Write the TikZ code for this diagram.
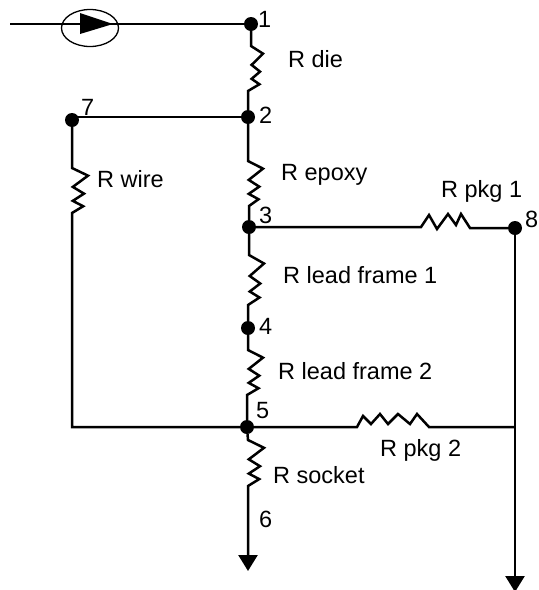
\documentclass[tikz,border=0pt]{standalone}
\usepackage{fontspec}
\setmainfont{Liberation Sans}
\usetikzlibrary{arrows.meta, shapes.geometric}

\tikzset{
	wire/.style={line width=2.5pt, line join=miter},
	dot/.style={circle, fill=black, inner sep=0pt, minimum size=14pt},
	lbl/.style={anchor=base west, inner sep=0pt, font=\fontsize{23.5}{26}\selectfont},
	tip/.style={-{Triangle[length=16pt, width=19pt]}},
	vzig/.style 2 args={insert path={
		-- ++({#1},{.17*#2}) -- ++({-.95*#1},{.25*#2}) -- ++({.7*#1},{.15*#2})
		-- ++({-.7*#1},{.16*#2}) -- ++({.65*#1},{.12*#2})}},
}

\begin{document}
\begin{tikzpicture}[x=1pt, y=-1pt]
	\useasboundingbox (0,0) rectangle (539,590);

	\node [dot] (n1) at (251,24) {};
	\node [dot] (n2) at (248,117) {};
	\node [dot] (n3) at (249,227) {};
	\node [dot] (n4) at (248,328) {};
	\node [dot] (n5) at (247,427) {};
	\node [dot] (n7) at (72,120) {};
	\node [dot] (n8) at (515,228) {};

	\coordinate (in) at (10,24);
	\coordinate (top) at (75,117);
	\coordinate (corner) at (72,427);
	\coordinate (junc) at (514,427);
	\coordinate (tipa) at (248,571);
	\coordinate (tipb) at (515,592);

	\coordinate (rdiea) at (251,46);
	\coordinate (rdieb) at (248,91);
	\coordinate (repoxya) at (248,161);
	\coordinate (repoxyb) at (249,206);
	\coordinate (rleadaa) at (249,255);
	\coordinate (rleadab) at (248,305);
	\coordinate (rleadba) at (248,350);
	\coordinate (rleadbb) at (247,395);
	\coordinate (rsocketa) at (248,440);
	\coordinate (rsocketb) at (248,486);
	\coordinate (rwirea) at (72,168);
	\coordinate (rwireb) at (72,213);
	\coordinate (rpkga) at (421,227);
	\coordinate (rpkgb) at (357,427);

	\draw [wire] (in) -- (n1);
	\node [ellipse, draw, line width=1.3pt, minimum width=57pt, minimum height=37pt, inner sep=0pt] (pump) at (90,28) {};
	\fill (80,13) -- (113,24) -- (80,34) -- cycle;

	\draw [wire] (n1) -- (rdiea) [vzig={12}{45}] -- (rdieb) -- (n2);
	\draw [wire] (n2) -- (repoxya) [vzig={15}{45}] -- (repoxyb) -- (n3);
	\draw [wire] (n3) -- (rleadaa) [vzig={15}{50}] -- (rleadab) -- (n4);
	\draw [wire] (n4) -- (rleadba) [vzig={15}{45}] -- (rleadbb) -- (n5);
	\draw [wire, tip] (n5) -- (rsocketa) [vzig={16}{46}] -- (rsocketb) -- (tipa);

	\draw [wire] (n2) -- (top);
	\draw [wire] (n7) -- (rwirea) [vzig={16}{45}] -- (rwireb) -- (corner) -- (n5);

	%horizontal resistors
	\draw [wire] (n3) -- (rpkga) -- ++(8,-12) -- ++(8,14) -- ++(11,-15) -- ++(8,11) -- ++(5,-11) -- ++(9,14) -- (n8);
	\draw [wire] (n5) -- (rpkgb) -- ++(6,-11) -- ++(8,8) -- ++(9,-10) -- ++(8,10) -- ++(10,-10) -- ++(12,10) -- ++(7,-10) -- ++(12,13) -- (junc);
	\draw [wire, tip] (n8) -- (tipb);

	\node [lbl] (l1) at (258,27) {1};
	\node [lbl] (l2) at (259,123) {2};
	\node [lbl] (l3) at (259,223) {3};
	\node [lbl] (l4) at (259,334) {4};
	\node [lbl] (l5) at (256,418) {5};
	\node [lbl] (l6) at (259,527) {6};
	\node [lbl] (l7) at (81,115) {7};
	\node [lbl] (l8) at (525,227) {8};

	\node [lbl] (ldie) at (288,67) {R die};
	\node [lbl] (lwire) at (97,187) {R wire};
	\node [lbl] (lepoxy) at (281,180) {R epoxy};
	\node [lbl] (lpkga) at (441,197) {R pkg 1};
	\node [lbl] (lleada) at (283,283) {R lead frame 1};
	\node [lbl] (lleadb) at (278,379) {R lead frame 2};
	\node [lbl] (lpkgb) at (380,456) {R pkg 2};
	\node [lbl] (lsocket) at (273,483) {R socket};
\end{tikzpicture}
\end{document}
